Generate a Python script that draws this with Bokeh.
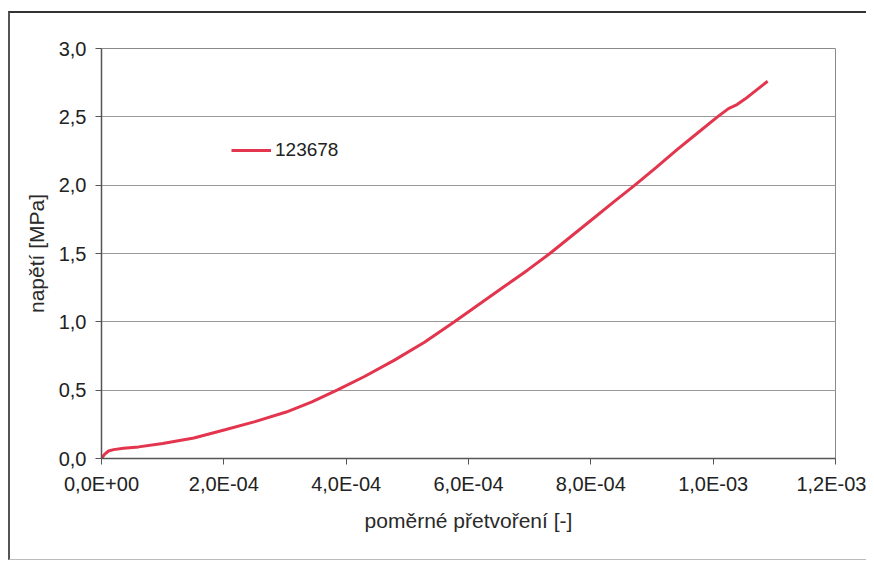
from bokeh.plotting import figure
from bokeh.models import FixedTicker, Legend, LegendItem, Range1d
from bokeh.embed import file_html
from bokeh.resources import INLINE

# data
strain = [0, 0.049e-4, 0.115e-4, 0.197e-4, 0.36e-4, 0.607e-4, 1.0e-4, 1.51e-4, 2.02e-4,
          2.51e-4, 3.02e-4, 3.44e-4, 3.85e-4, 4.30e-4, 4.79e-4, 5.28e-4, 5.77e-4,
          6.18e-4, 6.59e-4, 6.97e-4, 7.33e-4, 7.69e-4, 8.05e-4, 8.38e-4, 8.72e-4,
          9.07e-4, 9.41e-4, 9.74e-4, 10.07e-4, 10.25e-4, 10.39e-4, 10.52e-4, 10.89e-4]
stress = [0, 0.03, 0.055, 0.065, 0.075, 0.085, 0.11, 0.15, 0.21,
          0.27, 0.34, 0.415, 0.5, 0.6, 0.72, 0.85, 1.0,
          1.13, 1.26, 1.38, 1.5, 1.63, 1.76, 1.88, 2.0,
          2.13, 2.26, 2.38, 2.5, 2.56, 2.59, 2.63, 2.76]
series_name = "123678"

x_ticks = [0, 2e-4, 4e-4, 6e-4, 8e-4, 10e-4, 12e-4]
x_tick_labels = ["0,0E+00", "2,0E-04", "4,0E-04", "6,0E-04", "8,0E-04", "1,0E-03", "1,2E-03"]
y_ticks = [0, 0.5, 1.0, 1.5, 2.0, 2.5, 3.0]
y_tick_labels = ["0,0", "0,5", "1,0", "1,5", "2,0", "2,5", "3,0"]

FONT = "Liberation Sans"

p = figure(width=858, height=549, output_backend="svg", toolbar_location=None,
           x_range=Range1d(0, 12e-4), y_range=Range1d(0, 3.0),
           min_border_left=91, min_border_right=33, min_border_top=35, min_border_bottom=104,
           x_axis_label="poměrné přetvoření [-]", y_axis_label="napětí [MPa]")
p.styles = {"border-top": "2px solid #333333", "border-left": "2px solid #555555",
            "border-bottom": "1px solid #bbbbbb",
            "margin-top": "11px", "margin-left": "8px"}

p.outline_line_color = "#8a8a8a"
p.outline_line_width = 1

p.xgrid.visible = False
p.ygrid.grid_line_color = "#9a9a9a"
p.ygrid.grid_line_width = 1

p.xaxis.ticker = FixedTicker(ticks=x_ticks)
p.xaxis.major_label_overrides = {t: l for t, l in zip(x_ticks, x_tick_labels)}
p.yaxis.ticker = FixedTicker(ticks=y_ticks)
p.yaxis.major_label_overrides = {t: l for t, l in zip(y_ticks, y_tick_labels)}

for ax in (p.xaxis, p.yaxis):
    ax.axis_line_color = "#555555"
    ax.axis_line_width = 1.5
    ax.major_tick_line_color = "#555555"
    ax.major_tick_out = 6
    ax.major_tick_in = 0
    ax.minor_tick_out = 0
    ax.minor_tick_in = 0
    ax.major_label_text_font = FONT
    ax.major_label_text_font_size = "20px"
    ax.major_label_text_color = "#222222"
    ax.axis_label_text_font = FONT
    ax.axis_label_text_font_size = "21px"
    ax.axis_label_text_font_style = "normal"
    ax.axis_label_text_color = "#2a2a2a"

p.xaxis.major_label_standoff = 8
p.xaxis.axis_label_standoff = 11
p.yaxis.major_label_standoff = 9
p.yaxis.axis_label_standoff = 8

r = p.line(strain, stress, line_color="#e3354d", line_width=3)

legend = Legend(items=[LegendItem(label=series_name, renderers=[r])],
                location=(130, 297), border_line_alpha=0, background_fill_alpha=0,
                glyph_width=40, glyph_height=20, padding=0, margin=0, label_standoff=4,
                label_text_font=FONT, label_text_font_size="19px", label_text_color="#222222")
p.add_layout(legend)

open("out.html", "w").write(file_html(p, INLINE))
